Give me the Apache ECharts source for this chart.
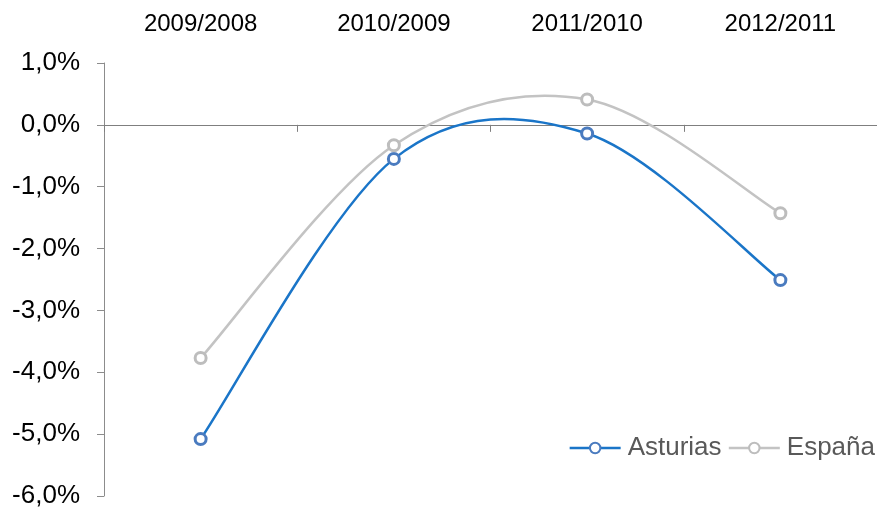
<!DOCTYPE html>
<html>
<head>
<meta charset="utf-8">
<script src="https://cdn.jsdelivr.net/npm/echarts@6/dist/echarts.min.js"></script>
<style>
  html, body { margin: 0; padding: 0; background: #fff; }
  #chart { width: 877px; height: 509px; }
</style>
</head>
<body>
<div id="chart"></div>
<script>
// periods and year-on-year change (%)
const periods = ["2009/2008", "2010/2009", "2011/2010", "2012/2011"];
const asturias = [-5.08, -0.55, -0.14, -2.51];
const espana = [-3.77, -0.33, 0.41, -1.43];
const yTicks = { min: -6, max: 1, step: 1 };

const font = "Liberation Sans, Arial, sans-serif";
const blue = "#1a75c8", blueMark = "#4a7bbf";
const grey = "#c3c3c3", greyMark = "#bdbdbd";

const chart = echarts.init(document.getElementById("chart"));

const fmtPct = (v) => v.toFixed(1).replace(".", ",") + "%";

// Excel-like smoothed line: cubic bezier through the points (catmull-rom, 1/6)
function curve(name, values, color) {
  return {
    type: "custom",
    name: name + " curve",
    xAxisIndex: 1,
    silent: true,
    z: 1,
    data: [0],
    renderItem: (params, api) => {
      const pts = values.map((v, i) => api.coord([i, v]));
      const children = [];
      for (let i = 0; i < pts.length - 1; i++) {
        const p0 = pts[i - 1] || pts[i], p1 = pts[i], p2 = pts[i + 1], p3 = pts[i + 2] || pts[i + 1];
        children.push({
          type: "bezierCurve",
          shape: {
            x1: p1[0], y1: p1[1], x2: p2[0], y2: p2[1],
            cpx1: p1[0] + (p2[0] - p0[0]) / 6, cpy1: p1[1] + (p2[1] - p0[1]) / 6,
            cpx2: p2[0] - (p3[0] - p1[0]) / 6, cpy2: p2[1] - (p3[1] - p1[1]) / 6
          },
          style: { fill: null, stroke: color, lineWidth: 2.5 }
        });
      }
      return { type: "group", children };
    }
  };
}

function markers(name, values, color) {
  return {
    name,
    type: "line",
    xAxisIndex: 1,
    data: values,
    z: 3,
    symbol: "circle",
    symbolSize: 11,
    lineStyle: { color, width: 0, opacity: 0 },
    itemStyle: { color: "#fff", borderColor: color, borderWidth: 3 }
  };
}

chart.setOption({
  backgroundColor: "#fff",
  animation: false,
  grid: { left: 104, top: 63, width: 777, height: 434 },
  legend: {
    right: 2,
    top: 435,
    padding: 0,
    itemWidth: 51,
    itemHeight: 13,
    itemGap: 6,
    textStyle: { fontFamily: font, fontSize: 26, color: "#595959", padding: [0, 0, 0, 2] },
    data: [
      { name: "Asturias", lineStyle: { color: blue, width: 2.5, opacity: 1 } },
      { name: "España", lineStyle: { color: grey, width: 2.5, opacity: 1 } }
    ]
  },
  xAxis: [
    {
      type: "category",
      data: periods,
      position: "top",
      axisLine: { show: false, onZero: false },
      axisTick: { show: false },
      axisLabel: { margin: 27, fontFamily: font, fontSize: 24, color: "#000" }
    },
    {
      type: "category",
      data: periods,
      position: "bottom",
      axisLine: { onZero: true, lineStyle: { color: "#7f7f7f", width: 1 } },
      axisTick: { show: true, length: 7, lineStyle: { color: "#7f7f7f" } },
      axisLabel: { show: false }
    }
  ],
  yAxis: {
    type: "value",
    min: yTicks.min,
    max: yTicks.max,
    interval: yTicks.step,
    splitLine: { show: false },
    axisLine: { show: true, onZero: false, lineStyle: { color: "#8c8c8c", width: 1 } },
    axisTick: { show: true, length: 7, lineStyle: { color: "#8c8c8c" } },
    axisLabel: { margin: 24, fontFamily: font, fontSize: 26, color: "#000", formatter: fmtPct }
  },
  series: [
    curve("Asturias", asturias, blue),
    curve("España", espana, grey),
    markers("Asturias", asturias, blueMark),
    markers("España", espana, greyMark)
  ]
});
</script>
</body>
</html>
